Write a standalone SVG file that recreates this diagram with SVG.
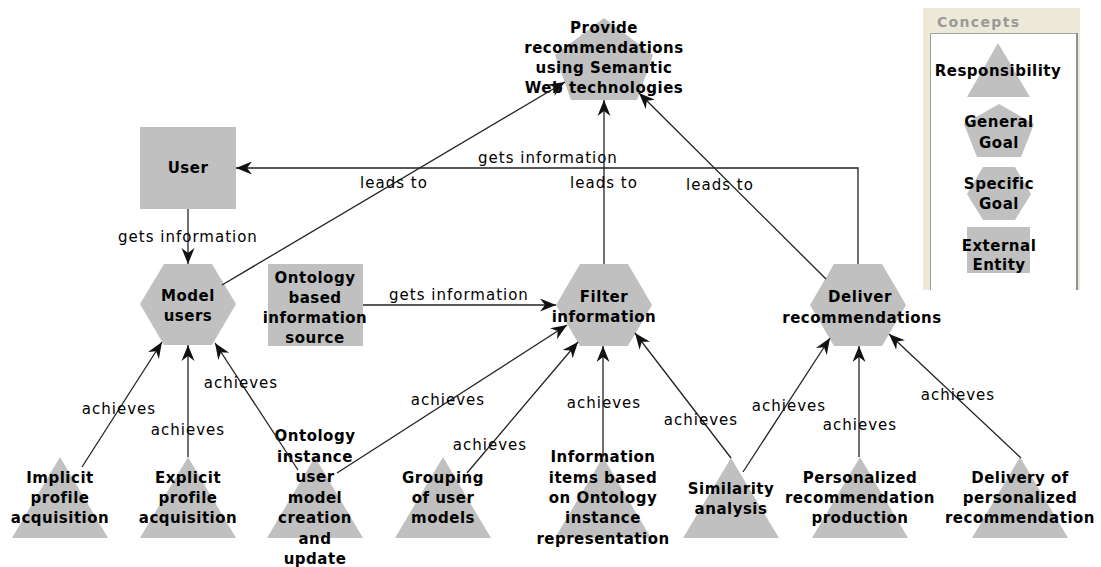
<svg xmlns="http://www.w3.org/2000/svg" width="1101" height="567" viewBox="0 0 1101 567">
  <style>
    .shape { fill: #c0c0c0; }
    .nt { font-family: "DejaVu Sans", Verdana, sans-serif; font-weight: bold; font-size: 15px; letter-spacing: 0.5px; text-anchor: middle; fill: #000; }
    .el { font-family: "DejaVu Sans", Verdana, sans-serif; font-size: 15px; letter-spacing: 1px; text-anchor: middle; fill: #000; }
    .edge { fill: none; stroke: #222; stroke-width: 1.3; marker-end: url(#arr); }
  </style>
  <defs>
    <marker id="arr" markerUnits="userSpaceOnUse" markerWidth="18" markerHeight="14" refX="16" refY="7" orient="auto">
      <path d="M16,7 L0,0.5 L5,7 L0,13.5 Z" fill="#111"/>
    </marker>
  </defs>

  <rect width="1101" height="567" fill="#fff"/>

  <!-- legend panel -->
  <g id="legend">
    <rect x="923" y="8" width="157" height="282" fill="#ece9d8"/>
    <rect x="930" y="33" width="147" height="257" fill="#fff"/>
    <path d="M930.5,290 V33.5 H1076.5" fill="none" stroke="#a0a0a0" stroke-width="1"/>
    <line x1="1077" y1="33" x2="1077" y2="290" stroke="#707070" stroke-width="1.5"/>
    <text x="937" y="27" font-family="DejaVu Sans, Verdana, sans-serif" font-weight="bold" font-size="14" fill="#9a9a9a" textLength="82">Concepts</text>
    <polygon class="shape" points="998,43 967,97 1030,97"/>
    <text class="nt" x="998" y="76">Responsibility</text>
    <polygon class="shape" points="999,104 1034,124 1021,157 977,157 964,124"/>
    <text class="nt" x="999" y="127">General</text>
    <text class="nt" x="999" y="148">Goal</text>
    <polygon class="shape" points="983,167 1015,167 1031,194 1015,220 983,220 967,194"/>
    <text class="nt" x="999" y="189">Specific</text>
    <text class="nt" x="999" y="209">Goal</text>
    <rect class="shape" x="967" y="227" width="63" height="46"/>
    <text class="nt" x="999" y="251">External</text>
    <text class="nt" x="999" y="270">Entity</text>
  </g>

  <!-- general goal -->
  <g id="provide-recommendations">
    <polygon class="shape" points="604,18 653,55 637,100 571,100 555,55"/>
    <text class="nt" x="604" y="33">Provide</text>
    <text class="nt" x="604" y="53">recommendations</text>
    <text class="nt" x="604" y="73">using Semantic</text>
    <text class="nt" x="604" y="93">Web technologies</text>
  </g>

  <!-- external entities -->
  <g id="user">
    <rect class="shape" x="140" y="127" width="96" height="82"/>
    <text class="nt" x="188" y="173">User</text>
  </g>
  <g id="ontology-source">
    <rect class="shape" x="268" y="264" width="95" height="82"/>
    <text class="nt" x="315" y="283">Ontology</text>
    <text class="nt" x="315" y="303">based</text>
    <text class="nt" x="315" y="323">information</text>
    <text class="nt" x="315" y="343">source</text>
  </g>

  <!-- specific goals -->
  <g id="model-users">
    <polygon class="shape" points="164,264 212,264 236,304 212,345 164,345 140,304"/>
    <text class="nt" x="188" y="301">Model</text>
    <text class="nt" x="188" y="321">users</text>
  </g>
  <g id="filter-information">
    <polygon class="shape" points="580,264 628,264 652,305 628,346 580,346 556,305"/>
    <text class="nt" x="604" y="302">Filter</text>
    <text class="nt" x="604" y="322">information</text>
  </g>
  <g id="deliver-recommendations">
    <polygon class="shape" points="834,264 882,264 906,305 882,346 834,346 810,305"/>
    <text class="nt" x="860" y="302">Deliver</text>
    <text class="nt" x="862" y="323">recommendations</text>
  </g>

  <!-- responsibilities -->
  <g id="implicit-profile">
    <polygon class="shape" points="60,457 12,538 108,538"/>
    <text class="nt" x="60" y="483">Implicit</text>
    <text class="nt" x="60" y="503">profile</text>
    <text class="nt" x="60" y="523">acquisition</text>
  </g>
  <g id="explicit-profile">
    <polygon class="shape" points="188,457 140,538 236,538"/>
    <text class="nt" x="188" y="483">Explicit</text>
    <text class="nt" x="188" y="503">profile</text>
    <text class="nt" x="188" y="523">acquisition</text>
  </g>
  <g id="ontology-instance-model">
    <polygon class="shape" points="315,457 267,538 363,538"/>
    <text class="nt" x="315" y="441">Ontology</text>
    <text class="nt" x="315" y="462">instance</text>
    <text class="nt" x="315" y="482">user</text>
    <text class="nt" x="315" y="503">model</text>
    <text class="nt" x="315" y="523">creation</text>
    <text class="nt" x="315" y="544">and</text>
    <text class="nt" x="315" y="564">update</text>
  </g>
  <g id="grouping-user-models">
    <polygon class="shape" points="443,457 395,538 491,538"/>
    <text class="nt" x="443" y="483">Grouping</text>
    <text class="nt" x="443" y="503">of user</text>
    <text class="nt" x="443" y="523">models</text>
  </g>
  <g id="information-items">
    <polygon class="shape" points="603,457 555,538 651,538"/>
    <text class="nt" x="603" y="462">Information</text>
    <text class="nt" x="603" y="483">items based</text>
    <text class="nt" x="603" y="503">on Ontology</text>
    <text class="nt" x="603" y="523">instance</text>
    <text class="nt" x="603" y="544">representation</text>
  </g>
  <g id="similarity-analysis">
    <polygon class="shape" points="731,458 683,538 779,538"/>
    <text class="nt" x="731" y="494">Similarity</text>
    <text class="nt" x="731" y="514">analysis</text>
  </g>
  <g id="personalized-production">
    <polygon class="shape" points="860,457 812,538 908,538"/>
    <text class="nt" x="860" y="483">Personalized</text>
    <text class="nt" x="860" y="503">recommendation</text>
    <text class="nt" x="860" y="523">production</text>
  </g>
  <g id="delivery-personalized">
    <polygon class="shape" points="1020,457 972,538 1068,538"/>
    <text class="nt" x="1020" y="483">Delivery of</text>
    <text class="nt" x="1020" y="503">personalized</text>
    <text class="nt" x="1020" y="523">recommendation</text>
  </g>

  <!-- connectors -->
  <g id="connectors">
    <path class="edge" d="M858,264 V168 H236"/>
    <text class="el" x="548" y="163">gets information</text>

    <path class="edge" d="M188,209 V264"/>
    <text class="el" x="188" y="242">gets information</text>

    <path class="edge" d="M222,285 L565,82"/>
    <text class="el" x="394" y="188">leads to</text>

    <path class="edge" d="M604,264 V100"/>
    <text class="el" x="604" y="188">leads to</text>

    <path class="edge" d="M826,279 L639,93"/>
    <text class="el" x="720" y="190">leads to</text>

    <path class="edge" d="M363,305 H556"/>
    <text class="el" x="459" y="300">gets information</text>

    <path class="edge" d="M82,467 L162,342"/>
    <text class="el" x="119" y="414">achieves</text>

    <path class="edge" d="M188,457 V345"/>
    <text class="el" x="188" y="435">achieves</text>

    <path class="edge" d="M298,470 L215,343"/>
    <text class="el" x="241" y="388">achieves</text>

    <path class="edge" d="M337,473 L567,325"/>
    <text class="el" x="448" y="405">achieves</text>

    <path class="edge" d="M467,473 L578,342"/>
    <text class="el" x="490" y="450">achieves</text>

    <path class="edge" d="M603,457 V346"/>
    <text class="el" x="604" y="408">achieves</text>

    <path class="edge" d="M731,458 L635,333"/>
    <text class="el" x="701" y="425">achieves</text>

    <path class="edge" d="M743,472 L830,338"/>
    <text class="el" x="789" y="411">achieves</text>

    <path class="edge" d="M859,457 V346"/>
    <text class="el" x="860" y="430">achieves</text>

    <path class="edge" d="M1021,458 L889,334"/>
    <text class="el" x="958" y="400">achieves</text>
  </g>
</svg>
